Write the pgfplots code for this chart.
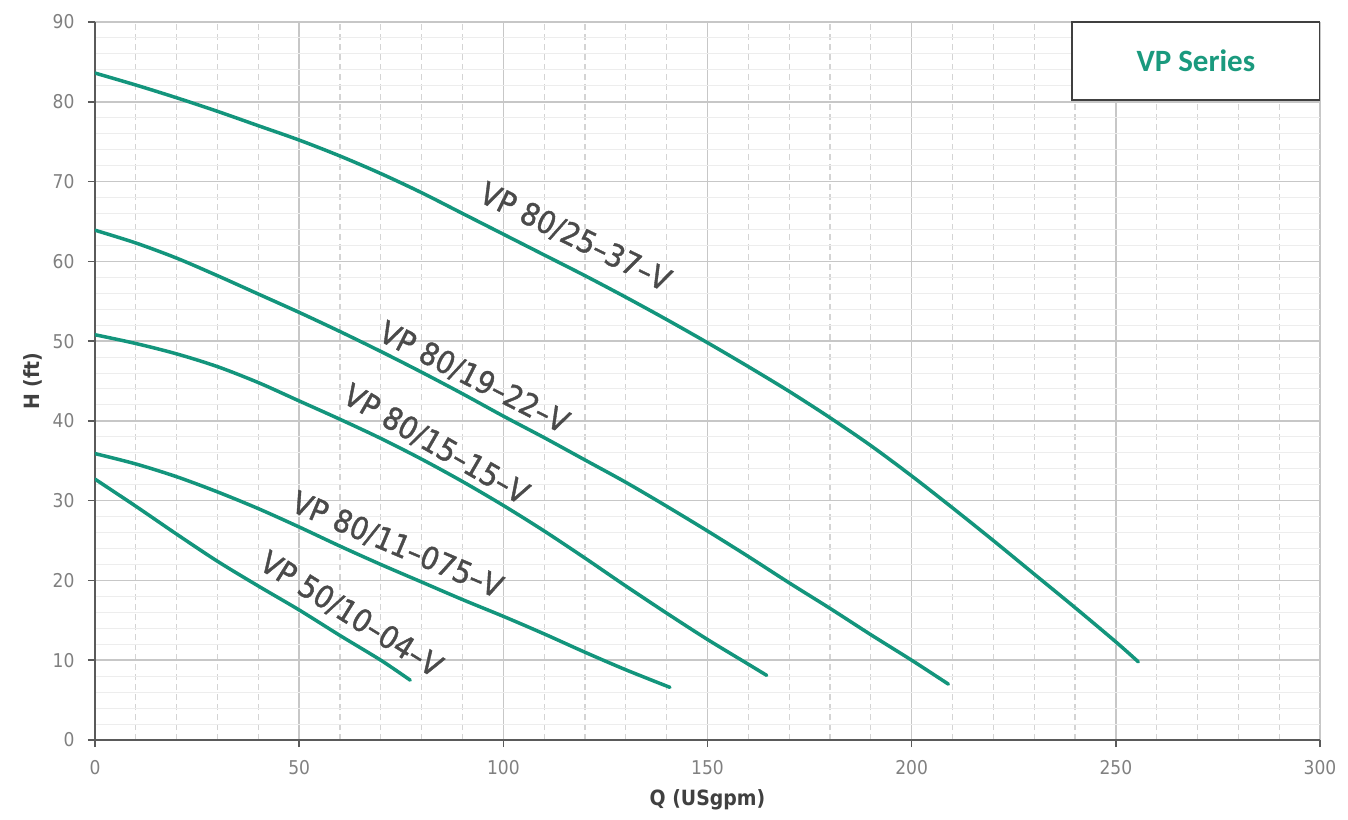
\documentclass[border=0pt]{standalone}
\usepackage{pgfplots}
\pgfplotsset{compat=1.18}
\usepackage{fontspec}
\setmainfont{DejaVu Sans}[FakeStretch=0.9]
\newfontfamily\labfont{DejaVu Sans}[FakeStretch=0.9, FakeBold=1.2, Ligatures=TeX]
\newfontfamily\boxfont{Carlito}
\definecolor{curve}{HTML}{13957C}
\definecolor{seriescol}{HTML}{1A9A7E}
\definecolor{labgray}{HTML}{4A4A4A}
\definecolor{tickgray}{HTML}{808080}
\definecolor{axgray}{HTML}{5A5A5A}
\pgfplotsset{pumpcurve/.style={draw=curve, line width=3.5pt, line cap=round, line join=round, mark=none, smooth, tension=0.5}}
\begin{document}
\begin{tikzpicture}
\path[use as bounding box] (-95pt,-79pt) rectangle (1253pt,740pt);
\begin{axis}[
  at={(0,0)}, anchor=south west,
  scale only axis, width=1225pt, height=718pt,
  xmin=0, xmax=300, ymin=0, ymax=90,
  axis lines*=left,
  axis line style={draw=axgray, line width=2pt},
  xtick={0,50,...,300}, ytick={0,10,...,90},
  minor x tick num=4, minor y tick num=4,
  grid=both,
  major grid style={draw=black!22, line width=1.5pt},
  minor x grid style={draw=black!17, line width=1.3pt, dash pattern=on 6pt off 4pt},
  minor y grid style={draw=black!7, line width=1pt},
  tick align=outside,
  major tick length=7pt, minor tick length=0pt,
  tick style={draw=axgray, line width=1.5pt},
  /pgf/number format/assume math mode=true,
  tick label style={font=\fontsize{19}{22}\selectfont, text=tickgray},
  xticklabel style={anchor=north, yshift=-10pt},
  yticklabel style={anchor=east, xshift=-10pt},
  xlabel={Q (USgpm)}, ylabel={H (ft)},
  xlabel style={at={(axis description cs:0.5,-0.0836)}, anchor=center, font=\bfseries\fontsize{21}{24}\selectfont, text=black!75},
  ylabel style={at={(axis description cs:-0.0506,0.5)}, anchor=center, font=\bfseries\fontsize{21}{24}\selectfont, text=black!75},
]
% VP 80/25-37-V
\addplot[pumpcurve] coordinates {(0,83.6)(10,82.1)(20,80.5)(30,78.8)(40,77.0)(50,75.2)(60,73.2)(70,71.0)(80,68.6)(90,66.0)(100,63.4)(110,60.8)(120,58.2)(130,55.5)(140,52.7)(150,49.8)(160,46.8)(170,43.7)(180,40.4)(190,36.9)(200,33.1)(210,29.1)(220,25.0)(230,20.8)(240,16.6)(250,12.3)(255.5,9.8)};
% VP 80/19-22-V
\addplot[pumpcurve] coordinates {(0,63.9)(10,62.3)(20,60.4)(30,58.2)(40,55.9)(50,53.6)(60,51.2)(70,48.7)(80,46.1)(90,43.4)(100,40.6)(110,37.9)(120,35.1)(130,32.3)(140,29.3)(150,26.2)(160,23.0)(170,19.7)(180,16.5)(190,13.2)(200,10.0)(209,7.0)};
% VP 80/15-15-V
\addplot[pumpcurve] coordinates {(0,50.8)(10,49.7)(20,48.4)(30,46.8)(40,44.8)(50,42.5)(60,40.2)(70,37.8)(80,35.2)(90,32.4)(100,29.4)(110,26.2)(120,22.8)(130,19.3)(140,15.9)(150,12.6)(160,9.5)(164.5,8.1)};
% VP 80/11-075-V
\addplot[pumpcurve] coordinates {(0,35.9)(10,34.6)(20,33.0)(30,31.1)(40,29.0)(50,26.7)(60,24.3)(70,22.0)(80,19.8)(90,17.6)(100,15.5)(110,13.3)(120,11.0)(130,8.8)(140.8,6.6)};
% VP 50/10-04-V
\addplot[pumpcurve] coordinates {(0,32.7)(10,29.3)(20,25.8)(30,22.4)(40,19.3)(50,16.3)(60,13.1)(70,10.0)(77.2,7.5)};

\begin{scope}[every node/.style={font=\labfont\fontsize{31}{35}\selectfont, text=labgray}]
\node[rotate=-26] at (axis cs:117.6,63.0) {VP 80/25–37–V};
\node[rotate=-27] at (axis cs:92.8,45.4) {VP 80/19–22–V};
\node[rotate=-30] at (axis cs:83.5,37.0) {VP 80/15–15–V};
\node[rotate=-23] at (axis cs:74.0,24.4) {VP 80/11–075–V};
\node[rotate=-32] at (axis cs:62.7,15.7) {VP 50/10–04–V};
\end{scope}

\draw[draw=black!75, line width=1.5pt, fill=white] (axis cs:239.3,80.2) rectangle (axis cs:300,90);
\node[font=\boxfont\bfseries\fontsize{31}{36}\selectfont, text=seriescol] at (axis cs:269.6,85.1) {VP Series};
\end{axis}
\end{tikzpicture}
\end{document}
